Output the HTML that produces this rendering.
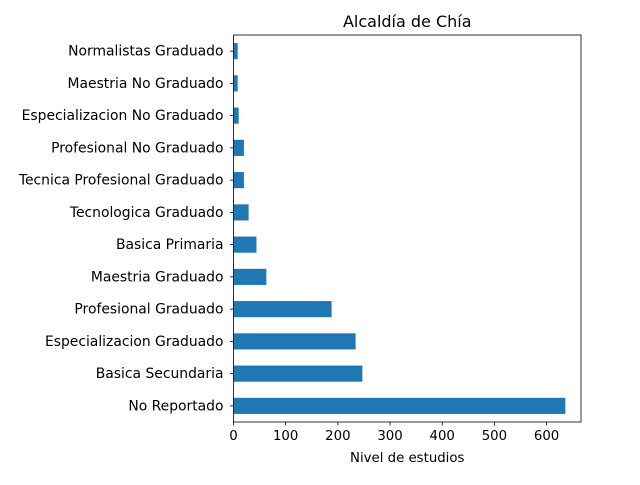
<!DOCTYPE html>
<html><head><meta charset="utf-8"><style>
body{margin:0;background:#fff;}
svg text{font-family:"DejaVu Sans","Liberation Sans",sans-serif;fill:#000;}
</style></head><body>
<svg id="c" width="640" height="480"></svg>
<script>
const categories=["No Reportado","Basica Secundaria","Especializacion Graduado","Profesional Graduado","Maestria Graduado","Basica Primaria","Tecnologica Graduado","Tecnica Profesional Graduado","Profesional No Graduado","Especializacion No Graduado","Maestria No Graduado","Normalistas Graduado"];
const values=[636,247,234,188,63,44,29,20,20,10,8,8];
const xTicks=[0,100,200,300,400,500,600];
const NS="http://www.w3.org/2000/svg";
const svg=document.getElementById('c');
const L=233.5,R=581,T=35,B=422,xmax=666;
const xs=v=>L+(v/xmax)*(R-L);
const ys=i=>B-(i+0.5)*(B-T)/categories.length;
const bh=0.5*(B-T)/categories.length;
function mk(t,a,p){const e=document.createElementNS(NS,t);for(const k in a)e.setAttribute(k,a[k]);(p||svg).appendChild(e);return e;}
values.forEach((v,i)=>{
 const r=mk('rect',{x:xs(0),y:ys(i)-bh/2,width:xs(v)-xs(0),height:bh,fill:'#1f77b4'});
 
 
 mk('line',{x1:L-3.5,x2:L,y1:ys(i),y2:ys(i),stroke:'#000','stroke-width':0.8});
 const t=mk('text',{x:L-10,y:ys(i)+4.5,'text-anchor':'end','font-size':13.9});
 t.textContent=categories[i];
 
 
});
xTicks.forEach(v=>{
 mk('line',{x1:xs(v),x2:xs(v),y1:B,y2:B+3.5,stroke:'#000','stroke-width':0.8});
 const t=mk('text',{x:xs(v),y:B+18,'text-anchor':'middle','font-size':13.3});
 t.textContent=v;
 
 
});
const f=mk('rect',{x:L,y:T,width:R-L,height:B-T,fill:'none',stroke:'#000','stroke-width':0.8});


const xt=mk('text',{x:(L+R)/2,y:462,'text-anchor':'middle','font-size':13.3});
xt.textContent='Nivel de estudios';


const ti=mk('text',{x:(L+R)/2,y:27,'text-anchor':'middle','font-size':16});
ti.textContent='Alcaldía de Chía';


</script>
</body></html>
